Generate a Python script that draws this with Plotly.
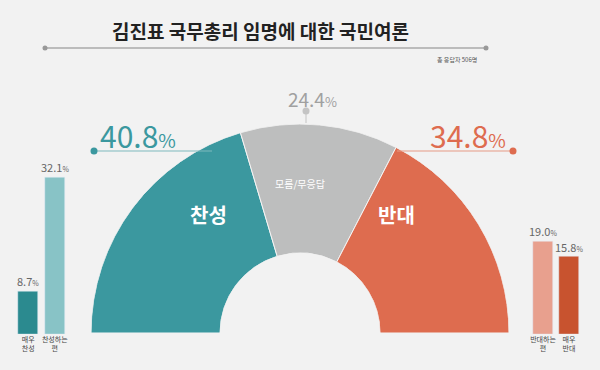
import plotly.graph_objects as go

# ---- data ----
main_labels = ["찬성", "모름/무응답", "반대"]
main_values = [40.8, 24.4, 34.8]
main_colors = ["#3b989f", "#bdbebe", "#de6c4f"]

left_labels = ["매우<br>찬성", "찬성하는<br>편"]
left_values = [8.7, 32.1]
left_colors = ["#2b8a8f", "#88c3c6"]

right_labels = ["반대하는<br>편", "매우<br>반대"]
right_values = [19.0, 15.8]
right_colors = ["#e8a08e", "#c8532f"]

title = "김진표 국무총리 임명에 대한 국민여론"
note = "총 응답자 506명"

W, H = 600, 370
BG = "#f2f2f2"
FONT = "Noto Sans CJK KR"

def px(x):
    return x / W

def py(y):
    return 1 - y / H

fig = go.Figure()

# ---- semi donut via barpolar ----
total = sum(main_values)
thetas, widths = [], []
acc = 0
for v in main_values:
    span = v / total * 180
    thetas.append(acc + span / 2)
    widths.append(span)
    acc += span

fig.add_trace(go.Barpolar(
    r=[1] * len(main_values), theta=thetas, width=widths,
    marker=dict(color=main_colors, line=dict(color="#f4f4f4", width=1)),
    hoverinfo="skip", showlegend=False, subplot="polar",
))

cx, cy, R = 300, 333, 209
fig.update_layout(polar=dict(
    domain=dict(x=[px(cx - R), px(cx + R)], y=[py(cy), py(cy - R)]),
    sector=[0, 180], hole=80 / 209, bgcolor="rgba(0,0,0,0)",
    radialaxis=dict(range=[0, 1], visible=False),
    angularaxis=dict(rotation=180, direction="clockwise", visible=False,
                     showgrid=False),
))

# ---- side bars ----
fig.add_trace(go.Bar(x=[0, 1], y=left_values, marker=dict(color=left_colors),
                     width=0.76, xaxis="x", yaxis="y", hoverinfo="skip",
                     showlegend=False))
fig.add_trace(go.Bar(x=[0, 1], y=right_values, marker=dict(color=right_colors),
                     width=0.76, xaxis="x2", yaxis="y2", hoverinfo="skip",
                     showlegend=False))

ytop = 40
ydom = [py(334), py(334 - 4.89 * ytop)]
tickfont = dict(family=FONT, size=7, color="#444")
fig.update_layout(
    xaxis=dict(domain=[px(15), px(68)], range=[-0.5, 1.5], tickvals=[0, 1],
               ticktext=left_labels, tickfont=tickfont, showgrid=False,
               zeroline=False, showline=False, ticks="", ticklen=0),
    yaxis=dict(domain=ydom, range=[0, ytop], visible=False),
    xaxis2=dict(domain=[px(530), px(582)], range=[-0.5, 1.5], tickvals=[0, 1],
                ticktext=right_labels, tickfont=tickfont, showgrid=False,
                zeroline=False, showline=False, ticks=""),
    yaxis2=dict(domain=ydom, range=[0, ytop], visible=False, anchor="x2"),
)

annotations = []
for i, v in enumerate(left_values):
    annotations.append(dict(x=i, y=v, xref="x", yref="y", yanchor="bottom",
                            xanchor="center",
                            text=f"{v:.1f}<span style='font-size:7px'>%</span>",
                            showarrow=False, yshift=0,
                            font=dict(family=FONT, size=11, color="#666")))
for i, v in enumerate(right_values):
    annotations.append(dict(x=i, y=v, xref="x2", yref="y2", yanchor="bottom",
                            xanchor="center",
                            text=f"{v:.1f}<span style='font-size:7px'>%</span>",
                            showarrow=False, yshift=0,
                            font=dict(family=FONT, size=11, color="#666")))

def ann(x, y, text, size, color, xanchor="center", yanchor="middle"):
    annotations.append(dict(x=px(x), y=py(y), xref="paper", yref="paper",
                            text=text, showarrow=False, xanchor=xanchor,
                            yanchor=yanchor,
                            font=dict(family=FONT, size=size, color=color)))

# segment inner labels
ann(208, 215, f"<b>{main_labels[0]}</b>", 20, "white")
ann(300, 183, main_labels[1], 10, "white")
ann(396, 215, f"<b>{main_labels[2]}</b>", 20, "white")

def pct(v, small):
    return f"{v:.1f}<span style='font-size:{small}px'>%</span>"

ann(98, 135, pct(main_values[0], 19), 30, main_colors[0], xanchor="left")
ann(313, 99, pct(main_values[1], 13), 19, "#a0a0a0")
ann(508, 135, pct(main_values[2], 19), 30, main_colors[2], xanchor="right")
ann(260, 30, f"<b>{title}</b>", 19, "#222")
ann(479, 59, note, 6, "#555", xanchor="right")

shapes = []
def line(x0, y0, x1, y1, color, width=1.5):
    shapes.append(dict(type="line", xref="paper", yref="paper",
                       x0=px(x0), y0=py(y0), x1=px(x1), y1=py(y1),
                       line=dict(color=color, width=width)))

def dot(x, y, color, r=3.5):
    shapes.append(dict(type="circle", xref="paper", yref="paper",
                       x0=px(x - r), x1=px(x + r), y0=py(y + r), y1=py(y - r),
                       fillcolor=color, line=dict(width=0)))

line(45, 48, 486, 48, "#aaaaaa", 1.5)
dot(45, 48, "#999999", 2.5)
dot(486, 48, "#999999", 2.5)

line(94, 151, 212, 151, "#7fb9bd", 1)
dot(94, 151, main_colors[0])
line(306, 111, 306, 123, "#c4c4c4", 1)
dot(306, 111, "#c4c4c4")
line(397, 151, 513, 151, "#e69a85", 1)
dot(513, 151, main_colors[2])

fig.update_layout(
    width=W, height=H, margin=dict(l=0, r=0, t=0, b=0),
    paper_bgcolor=BG, plot_bgcolor=BG, showlegend=False,
    annotations=annotations, shapes=shapes, bargap=0,
    font=dict(family=FONT),
)

fig.write_html(
    "out.html",
    config={"displayModeBar": False},
    post_script="document.body.style.margin='0';"
                "document.body.style.background='#f2f2f2';",
)
